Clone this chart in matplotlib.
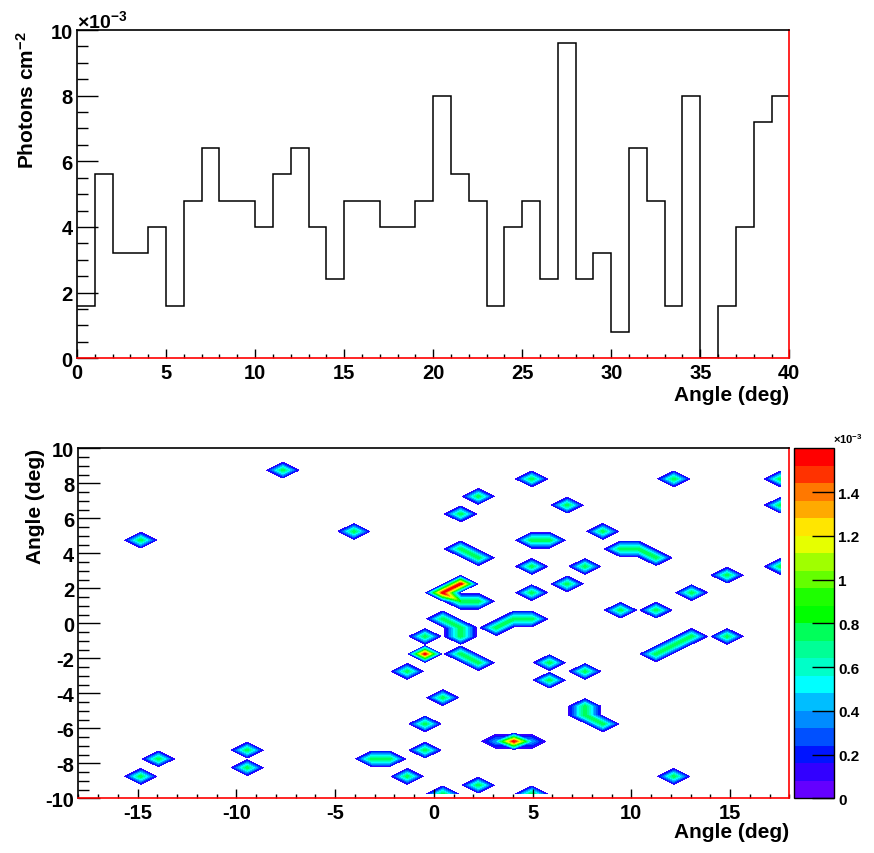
import numpy as np
import matplotlib.pyplot as plt
import matplotlib.cm as cm
import matplotlib.tri as mtri
from matplotlib.colors import ListedColormap, BoundaryNorm
from matplotlib.ticker import MultipleLocator

plt.rcParams['font.family'] = 'Liberation Sans'
plt.rcParams['font.weight'] = 'bold'
plt.rcParams['axes.labelweight'] = 'bold'
plt.rcParams['axes.unicode_minus'] = False
plt.rcParams['mathtext.fontset'] = 'custom'
plt.rcParams['mathtext.rm'] = 'Liberation Sans:bold'
plt.rcParams['mathtext.bf'] = 'Liberation Sans:bold'
plt.rcParams['mathtext.default'] = 'bf'

# ---- top histogram: photons per 1 deg bin (units of 1e-3) ----
angle_lo, angle_hi = 0, 40
photons = [1.6, 5.6, 3.2, 3.2, 4.0, 1.6, 4.8, 6.4, 4.8, 4.8,
           4.0, 5.6, 6.4, 4.0, 2.4, 4.8, 4.8, 4.0, 4.0, 4.8,
           8.0, 5.6, 4.8, 1.6, 4.0, 4.8, 2.4, 9.6, 2.4, 3.2,
           0.8, 6.4, 4.8, 1.6, 8.0, 0.0, 1.6, 4.0, 7.2, 8.0]

# ---- 2D map: 40 x 40 bins, x in [-18, 18], y in [-10, 10] (units of 1e-3) ----
nbins_x, nbins_y = 40, 40
x_range = (-18, 18)
y_range = (-10, 10)
cell_xbin = [3, 3, 4, 9, 9, 11, 15, 16, 17, 18, 18, 19, 19, 19, 19, 20, 20, 20, 20,
             21, 21, 21, 21, 21, 21, 21, 22, 22, 22, 22, 22, 23, 23, 24, 24, 25, 25,
             25, 25, 25, 25, 25, 26, 26, 26, 27, 27, 28, 28, 28, 28, 29, 29, 30, 30,
             31, 32, 32, 32, 33, 33, 33, 34, 34, 36, 36, 39, 39, 39]
cell_ybin = [2, 29, 4, 3, 5, 37, 30, 4, 4, 2, 14, 5, 8, 16, 18, 0, 11, 20, 23,
             16, 18, 19, 22, 24, 28, 32, 1, 15, 22, 27, 34, 6, 19, 6, 20, 0, 6,
             20, 23, 26, 29, 36, 13, 15, 29, 24, 33, 9, 10, 14, 26, 8, 30, 21, 28,
             28, 16, 21, 27, 2, 17, 36, 18, 23, 18, 25, 26, 33, 36]
cell_val = [0.8, 0.8, 0.8, 0.8, 0.8, 0.8, 0.8, 0.8, 0.8, 0.8, 0.8, 0.8, 0.8, 1.6, 0.8, 0.8, 0.8, 0.8, 1.6,
            0.8, 0.8, 0.8, 0.8, 1.6, 0.8, 0.8, 0.8, 0.8, 0.8, 0.8, 0.8, 0.4, 0.8, 1.6, 0.8, 0.8, 0.4,
            0.8, 0.8, 0.8, 0.8, 0.8, 0.8, 0.8, 0.8, 0.8, 0.8, 0.8, 0.8, 0.8, 0.8, 0.8, 0.8, 0.8, 0.8,
            0.8, 0.8, 0.8, 0.8, 0.8, 0.8, 0.8, 0.8, 0.8, 0.8, 0.8, 0.8, 0.8, 0.8]

# ROOT-like "pretty" palette, 20 bands from 0 to 1.6e-3
palette = ['#6400ff', '#3200ff', '#0014ff', '#0050ff', '#008cff', '#00beff',
           '#00ffff', '#00ffc8', '#00ff96', '#00ff5a', '#00ff00', '#1eff00',
           '#64ff00', '#a0ff00', '#e6ff00', '#ffe600', '#ffaa00', '#ff7800',
           '#ff3200', '#ff0000']
levels = np.linspace(0, 1.6, 21)

fig = plt.figure(figsize=(8.74, 8.54), dpi=100)

# ================= top: histogram =================
ax1 = fig.add_axes([0.0881, 0.5793, 0.8150, 0.3844])
edges = np.linspace(angle_lo, angle_hi, len(photons) + 1)
ax1.stairs(photons, edges, color='black', lw=1.1, baseline=None)
ax1.set_xlim(angle_lo, angle_hi)
ax1.set_ylim(0, 10)
ax1.xaxis.set_major_locator(MultipleLocator(5))
ax1.xaxis.set_minor_locator(MultipleLocator(1))
ax1.yaxis.set_major_locator(MultipleLocator(2))
ax1.yaxis.set_minor_locator(MultipleLocator(0.5))
ax1.tick_params(axis='x', which='major', direction='in', length=6.7, width=1, pad=3.5, labelsize=14.5)
ax1.tick_params(axis='x', which='minor', direction='in', length=3.2, width=1)
ax1.tick_params(axis='y', which='major', direction='in', length=15, width=1, pad=3, labelsize=14.5)
ax1.tick_params(axis='y', which='minor', direction='in', length=8, width=1)
ax1.set_xlabel('Angle (deg)', fontsize=15, loc='right')
ax1.xaxis.set_label_coords(1.0, -0.08)
ax1.set_ylabel('Photons cm$^{-2}$', fontsize=15, loc='top')
ax1.yaxis.set_label_coords(-0.055, 1.0)
ax1.text(0.0, 1.008, '×10$^{-3}$', transform=ax1.transAxes, fontsize=14,
         ha='left', va='baseline')
for side in ['left', 'top']:
    ax1.spines[side].set_linewidth(1.2)
for side in ['bottom', 'right']:
    ax1.spines[side].set_color('red')
    ax1.spines[side].set_linewidth(1.2)

# ================= bottom: 2D contour map =================
ax2 = fig.add_axes([0.0898, 0.0641, 0.8133, 0.4098])
xc = np.linspace(x_range[0], x_range[1], nbins_x + 1)
xc = 0.5 * (xc[:-1] + xc[1:])
yc = np.linspace(y_range[0], y_range[1], nbins_y + 1)
yc = 0.5 * (yc[:-1] + yc[1:])
Z = np.zeros((nbins_y, nbins_x))
for ix, iy, v in zip(cell_xbin, cell_ybin, cell_val):
    Z[iy, ix] = v

# split each grid square into two triangles; ridges along a diagonal stay
# connected, isolated peaks give diamonds (like ROOT's CONT drawing)
XX, YY = np.meshgrid(xc, yc)
zf = Z.ravel()
tris = []
for j in range(nbins_y - 1):
    for i in range(nbins_x - 1):
        a = j * nbins_x + i
        b = a + 1
        d = a + nbins_x
        c = d + 1
        m1, m2 = min(zf[a], zf[c]), min(zf[b], zf[d])
        if m1 > m2 or (m1 == m2 and zf[a] + zf[c] <= zf[b] + zf[d]):
            tris += [[a, b, c], [a, c, d]]
        else:
            tris += [[a, b, d], [b, c, d]]
tri = mtri.Triangulation(XX.ravel(), YY.ravel(), np.array(tris))

cmap = ListedColormap(palette)
norm = BoundaryNorm(levels, cmap.N)
ax2.tricontourf(tri, zf, levels=levels[1:], cmap=cmap, norm=norm)
ax2.set_xlim(*x_range)
ax2.set_ylim(*y_range)
ax2.xaxis.set_major_locator(MultipleLocator(5))
ax2.xaxis.set_minor_locator(MultipleLocator(1))
ax2.yaxis.set_major_locator(MultipleLocator(2))
ax2.yaxis.set_minor_locator(MultipleLocator(0.5))
ax2.tick_params(axis='x', which='major', direction='in', length=6.7, width=1, pad=3.5, labelsize=14.5)
ax2.tick_params(axis='x', which='minor', direction='in', length=3.2, width=1)
ax2.tick_params(axis='y', which='major', direction='in', length=16, width=1, pad=3, labelsize=14.5)
ax2.tick_params(axis='y', which='minor', direction='in', length=8, width=1)
ax2.set_xlabel('Angle (deg)', fontsize=15, loc='right')
ax2.xaxis.set_label_coords(1.0, -0.068)
ax2.set_ylabel('Angle (deg)', fontsize=15, loc='top')
ax2.yaxis.set_label_coords(-0.047, 1.0)
for side in ['left', 'top']:
    ax2.spines[side].set_linewidth(1.2)
for side in ['bottom', 'right']:
    ax2.spines[side].set_color('red')
    ax2.spines[side].set_linewidth(1.2)

# colour scale
cax = fig.add_axes([0.9085, 0.0641, 0.0458, 0.4098])
cb = fig.colorbar(cm.ScalarMappable(norm=norm, cmap=cmap), cax=cax)
cb.set_ticks(np.arange(0, 1.41, 0.2))
cb.set_ticklabels([f'{t:g}' for t in np.arange(0, 1.41, 0.2)])
cb.ax.minorticks_off()
cb.ax.tick_params(direction='in', length=16, width=1, pad=3, labelsize=11)
cb.outline.set_linewidth(1)
cax.text(0.97, 1.01, '×10$^{-3}$', transform=cax.transAxes, fontsize=8,
         ha='left', va='bottom')

fig.savefig('out.png', dpi=100)
